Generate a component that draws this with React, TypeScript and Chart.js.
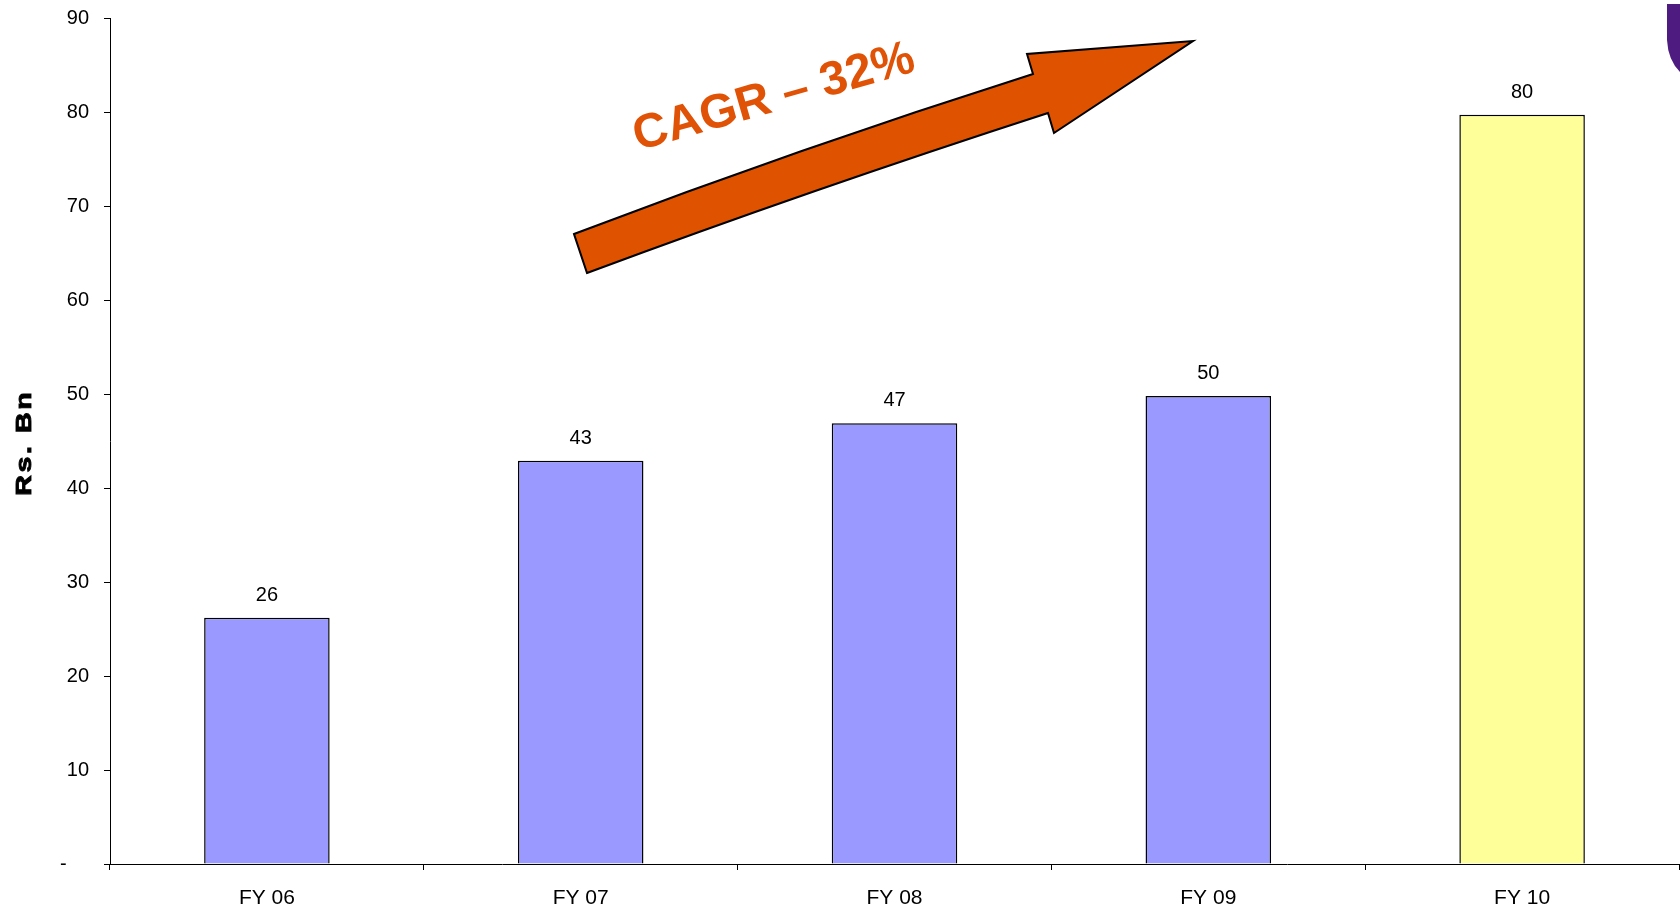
import React, { useEffect, useRef } from "react";
import { Chart, registerables } from "chart.js";

Chart.register(...registerables);

const categories = ["FY 06", "FY 07", "FY 08", "FY 09", "FY 10"];
const values = [26.2, 42.9, 46.9, 49.8, 79.7];
const valueLabels = ["26", "43", "47", "50", "80"];
const barColors = ["#9999FF", "#9999FF", "#9999FF", "#9999FF", "#FFFF99"];
const yTicks = [0, 10, 20, 30, 40, 50, 60, 70, 80, 90];
const yTitle = "Rs. Bn";
const cagrText = "CAGR – 32%";

const FONT = "'Liberation Sans', Arial, sans-serif";

const overlayPlugin = {
  id: "overlay",
  afterDraw(chart: any) {
    const ctx = chart.ctx as CanvasRenderingContext2D;
    const meta = chart.getDatasetMeta(0);
    // value labels
    ctx.save();
    ctx.fillStyle = "#000";
    ctx.font = `20px ${FONT}`;
    ctx.textAlign = "center";
    ctx.textBaseline = "alphabetic";
    meta.data.forEach((bar: any, i: number) => {
      ctx.fillText(valueLabels[i], bar.x, bar.y - 17);
    });
    ctx.restore();

    // y title
    ctx.save();
    ctx.translate(25, 444);
    ctx.rotate(-Math.PI / 2);
    ctx.scale(1.3, 1);
    ctx.font = `bold 22px ${FONT}`;
    (ctx as any).letterSpacing = "2px";
    ctx.fillStyle = "#000";
    ctx.strokeStyle = "#000";
    ctx.lineWidth = 0.9;
    ctx.textAlign = "center";
    ctx.textBaseline = "middle";
    ctx.fillText(yTitle, 1, 0);
    ctx.strokeText(yTitle, 1, 0);
    ctx.restore();

    // arrow
    ctx.save();
    ctx.beginPath();
    ctx.moveTo(574, 234);
    ctx.quadraticCurveTo(800, 148, 1033, 74);
    ctx.lineTo(1027, 54);
    ctx.lineTo(1193, 41);
    ctx.lineTo(1054, 133);
    ctx.lineTo(1048, 113);
    ctx.quadraticCurveTo(810, 190, 587, 273);
    ctx.closePath();
    ctx.fillStyle = "#DF5200";
    ctx.fill();
    ctx.lineWidth = 2;
    ctx.strokeStyle = "#000";
    ctx.lineJoin = "miter";
    ctx.stroke();
    ctx.restore();

    // CAGR text
    ctx.save();
    ctx.translate(774, 98);
    ctx.rotate((-16 * Math.PI) / 180);
    ctx.font = `bold 48px ${FONT}`;
    ctx.fillStyle = "#E05206";
    ctx.textAlign = "center";
    ctx.textBaseline = "middle";
    ctx.fillText(cagrText, 0, 0);
    ctx.restore();

    // purple logo fragment at top-right
    ctx.save();
    ctx.beginPath();
    ctx.moveTo(1667, 4);
    ctx.lineTo(1680, 4);
    ctx.lineTo(1680, 72);
    ctx.quadraticCurveTo(1668, 60, 1667, 40);
    ctx.closePath();
    ctx.fillStyle = "#4E1C80";
    ctx.fill();
    ctx.restore();
  },
};

export default function App() {
  const ref = useRef<HTMLCanvasElement | null>(null);
  useEffect(() => {
    if (!ref.current) return;
    const chart = new Chart(ref.current, {
      type: "bar",
      data: {
        labels: categories,
        datasets: [
          {
            data: values,
            backgroundColor: barColors,
            borderColor: "#000",
            borderWidth: 1.5,
            barPercentage: 0.4,
            categoryPercentage: 1,
          },
        ],
      },
      options: {
        animation: false,
        responsive: false,
        maintainAspectRatio: false,
        layout: { padding: { top: 18, right: 1, bottom: 0, left: 0 } },
        plugins: {
          legend: { display: false },
          tooltip: { enabled: false },
          title: { display: false },
        },
        scales: {
          x: {
            grid: {
              display: true,
              drawOnChartArea: false,
              drawTicks: true,
              tickLength: 6,
              color: "#000",
              offset: true,
            },
            border: { display: true, color: "#000", width: 1 },
            ticks: {
              color: "#000",
              font: { family: FONT, size: 21 },
              padding: 16,
              maxRotation: 0,
            },
            afterFit(scale: any) {
              scale.height = 50;
              scale.paddingLeft = 0;
              scale.paddingRight = 0;
            },
          },
          y: {
            min: 0,
            max: 90,
            afterBuildTicks(scale: any) {
              scale.ticks = yTicks.map((v) => ({ value: v }));
            },
            grid: {
              display: true,
              drawOnChartArea: false,
              drawTicks: true,
              tickLength: 6,
              color: "#000",
            },
            border: { display: true, color: "#000", width: 1 },
            ticks: {
              color: "#000",
              font: { family: FONT, size: 20 },
              padding: 15,
              callback: (v: any) => (Number(v) === 0 ? "-    " : String(v)),
            },
            afterFit(scale: any) {
              scale.width = 110;
              scale.paddingTop = 0;
              scale.paddingBottom = 0;
            },
          },
        },
      },
      plugins: [overlayPlugin],
    });
    return () => chart.destroy();
  }, []);
  return (
    <div style={{ position: "fixed", left: 0, top: 0, width: 1680, height: 914, background: "#fff" }}>
      <canvas ref={ref} width={1680} height={914} style={{ display: "block" }} />
    </div>
  );
}
